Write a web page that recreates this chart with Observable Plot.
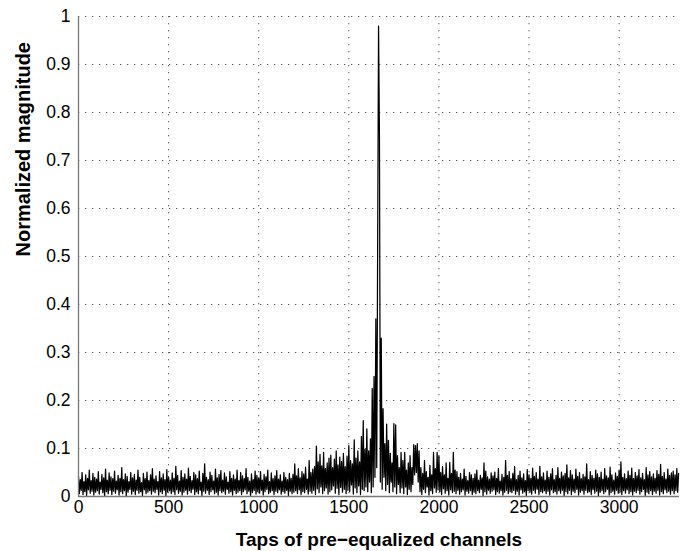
<!DOCTYPE html>
<html>
<head>
<meta charset="utf-8">
<script src="https://cdn.jsdelivr.net/npm/d3@7"></script>
<script src="https://cdn.jsdelivr.net/npm/@observablehq/plot@0.6"></script>
<style>
  html, body { margin: 0; padding: 0; background: #fff; }
  #chart svg { display: block; }
</style>
</head>
<body>
<div id="chart"></div>
<script>
// Normalized magnitude, one value every 5 taps
const magnitude = [
  .042,.006,.035,.013,.050,.004,.031,.010,.045,.002,.038,.014,.055,.007,.033,.011,.048,.003,.040,.009, // 0
  .036,.012,.052,.005,.030,.015,.046,.008,.039,.001,.057,.010,.034,.006,.049,.013,.041,.004,.037,.011, // 100
  .053,.007,.032,.014,.044,.003,.038,.010,.060,.006,.035,.012,.047,.000,.042,.009,.031,.015,.050,.005, // 200
  .039,.011,.046,.004,.034,.013,.055,.007,.040,.010,.029,.002,.048,.014,.037,.006,.051,.009,.033,.012, // 300
  .045,.005,.058,.011,.036,.008,.043,.015,.031,.003,.052,.010,.039,.006,.047,.013,.035,.001,.056,.009, // 400
  .041,.012,.034,.006,.049,.010,.038,.004,.063,.014,.044,.007,.032,.011,.054,.003,.040,.009,.047,.013, // 500
  .036,.005,.059,.012,.042,.008,.033,.015,.050,.004,.045,.010,.037,.006,.053,.013,.030,.002,.048,.011, // 600
  .068,.007,.040,.013,.035,.004,.051,.010,.044,.014,.032,.006,.057,.009,.039,.003,.046,.012,.054,.008, // 700
  .034,.011,.049,.005,.041,.015,.030,.007,.052,.010,.038,.003,.045,.013,.036,.006,.055,.009,.033,.012, // 800
  .050,.004,.043,.010,.037,.014,.058,.006,.040,.011,.032,.002,.047,.008,.035,.013,.053,.005,.044,.010, // 900
  .039,.007,.052,.013,.034,.003,.046,.010,.041,.015,.055,.006,.031,.009,.049,.012,.037,.004,.043,.011, // 1000
  .054,.008,.036,.014,.045,.005,.032,.010,.050,.007,.040,.013,.035,.002,.048,.011,.038,.006,.046,.009, // 1100
  .068,.012,.043,.006,.058,.014,.039,.004,.052,.010,.047,.008,.061,.015,.036,.005,.075,.011,.050,.007, // 1200
  .057,.013,.062,.004,.105,.016,.072,.008,.088,.020,.064,.006,.092,.012,.058,.018,.070,.005,.080,.010, // 1300
  .086,.014,.060,.022,.078,.007,.095,.017,.066,.004,.082,.019,.073,.009,.090,.015,.062,.006,.084,.013, // 1400
  .106,.010,.075,.024,.068,.005,.118,.018,.080,.008,.095,.022,.072,.004,.125,.015,.158,.012,.098,.020, // 1500
  .141,.010,.095,.030,.120,.008,.225,.020,.250,.040,.370,.060,.520,.980,.750,.030,.330,.015,.183,.040, // 1600
  .110,.012,.151,.025,.117,.008,.090,.030,.070,.010,.152,.020,.149,.006,.085,.025,.060,.008,.092,.018, // 1700
  .075,.006,.092,.020,.055,.004,.070,.015,.085,.010,.060,.025,.108,.045,.106,.050,.110,.030,.095,.010, // 1800
  .060,.004,.048,.015,.075,.008,.052,.020,.040,.003,.065,.012,.045,.006,.092,.018,.058,.009,.092,.014, // 1900
  .085,.010,.050,.004,.062,.016,.045,.007,.070,.012,.038,.003,.071,.014,.048,.008,.092,.011,.055,.006, // 2000
  .052,.013,.040,.005,.048,.010,.036,.014,.057,.003,.042,.011,.033,.007,.050,.012,.045,.004,.038,.009, // 2100
  .047,.006,.055,.012,.034,.008,.044,.015,.039,.002,.070,.010,.053,.005,.041,.013,.036,.007,.049,.011, // 2200
  .043,.014,.051,.004,.038,.010,.058,.007,.032,.012,.046,.003,.040,.009,.075,.013,.044,.006,.052,.010, // 2300
  .037,.008,.048,.013,.062,.005,.035,.011,.044,.003,.053,.014,.039,.007,.047,.010,.033,.002,.056,.012, // 2400
  .045,.009,.038,.005,.059,.013,.042,.007,.050,.015,.036,.004,.063,.010,.041,.008,.049,.012,.034,.006, // 2500
  .053,.011,.040,.003,.047,.014,.058,.008,.035,.010,.044,.005,.060,.012,.038,.007,.051,.013,.043,.002, // 2600
  .048,.010,.066,.006,.039,.013,.054,.004,.045,.011,.036,.008,.057,.015,.042,.003,.050,.009,.037,.012, // 2700
  .046,.005,.041,.013,.068,.008,.035,.010,.052,.004,.044,.014,.038,.007,.055,.011,.047,.002,.040,.009, // 2800
  .051,.012,.036,.006,.058,.010,.043,.015,.039,.003,.061,.008,.045,.011,.034,.005,.049,.013,.042,.007, // 2900
  .055,.009,.072,.004,.040,.012,.047,.007,.037,.014,.053,.006,.044,.010,.059,.003,.038,.011,.050,.008, // 3000
  .043,.013,.056,.005,.039,.010,.048,.015,.035,.002,.060,.009,.045,.006,.052,.012,.041,.004,.047,.011, // 3100
  .038,.007,.054,.013,.046,.003,.067,.010,.042,.006,.050,.014,.036,.008,.057,.011,.044,.005,.049,.012, // 3200
  .053,.006,.045,.012,.058,.009,.048                                                                   // 3300
];
const taps = d3.range(0, 3331, 5);

const xTicks = [0, 500, 1000, 1500, 2000, 2500, 3000];
const yTicks = [0, 0.1, 0.2, 0.3, 0.4, 0.5, 0.6, 0.7, 0.8, 0.9, 1];
const xLabel = "Taps of pre\u2212equalized channels";
const yLabel = "Normalized magnitude";

const rows = taps.map((t, i) => ({tap: t, mag: magnitude[i]})).filter(d => d.mag !== undefined);

const chart = Plot.plot({
  width: 690,
  height: 551,
  marginTop: 16,
  marginBottom: 55,
  marginLeft: 78,
  marginRight: 11,
  style: {fontFamily: "'Liberation Sans', Arial, Helvetica, sans-serif", fontSize: "17.5px", color: "#000", background: "#fff"},
  x: {domain: [0, 3335]},
  y: {domain: [0, 1]},
  marks: [
    Plot.gridX(xTicks.slice(1), {stroke: "#555", strokeOpacity: 1, strokeDasharray: "1.3,5.7"}),
    Plot.gridY(yTicks.slice(1), {stroke: "#555", strokeOpacity: 1, strokeDasharray: "1.3,5.7"}),
    Plot.axisX(xTicks, {tickSize: 0, tickPadding: 4, label: null, fontSize: 17.5, tickFormat: d => String(d)}),
    Plot.axisY(yTicks, {tickSize: 0, tickPadding: 8, label: null, fontSize: 17.5, tickFormat: d => String(d)}),
    Plot.line(rows, {x: "tap", y: "mag", stroke: "#000", strokeWidth: 1.25}),
    Plot.ruleX([0], {stroke: "#777", strokeWidth: 1.3}),
    Plot.ruleY([0], {stroke: "#777", strokeWidth: 1.3}),
    Plot.text([xLabel], {frameAnchor: "bottom", dy: 49, lineAnchor: "bottom", fontSize: 19, fontWeight: "bold", fill: "#000"}),
    Plot.text([yLabel], {frameAnchor: "left", dx: -49, rotate: -90, lineAnchor: "bottom", fontSize: 20, fontWeight: "bold", fill: "#000"})
  ]
});
document.getElementById("chart").appendChild(chart);
</script>
</body>
</html>
